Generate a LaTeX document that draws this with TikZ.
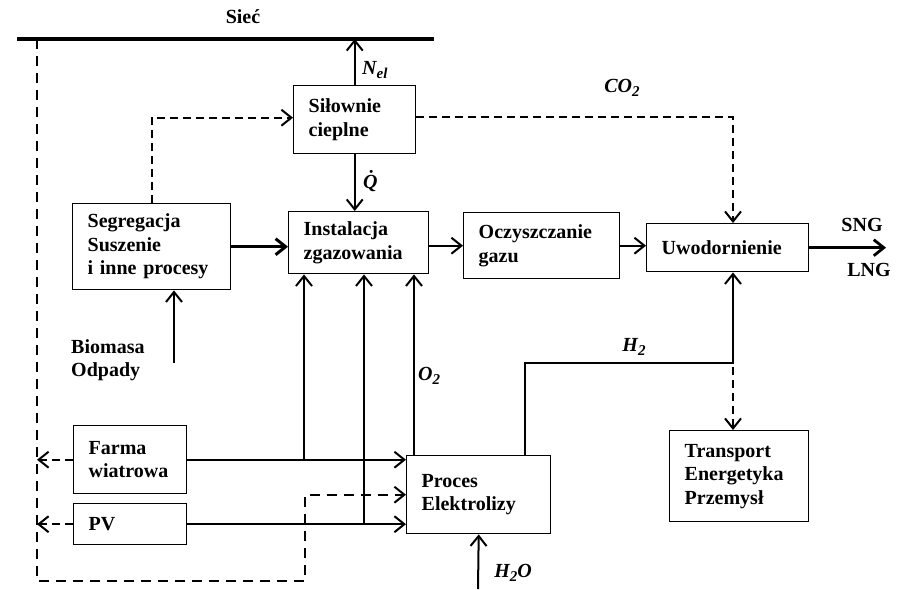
\documentclass[tikz,border=0pt]{standalone}
\usepackage{fontspec}
\setmainfont{Liberation Serif}
\usetikzlibrary{arrows.meta}
\newcommand{\mysub}[1]{\raisebox{-4pt}{\fontsize{15}{15}\selectfont #1}}
\newcommand{\mylab}[2]{{\itshape #1\mysub{#2}}}
\begin{document}
\begin{tikzpicture}[x=1pt,y=-1pt,
  font=\fontsize{20}{23.5}\selectfont\bfseries,
  >={Straight Barb[length=10pt,width=16pt]},
  box/.style={draw, line width=1.4pt, anchor=north west, align=left, inner xsep=15pt, inner ysep=0pt},
  conn/.style={line width=2pt},
  thickc/.style={line width=3pt},
  dsh/.style={line width=2pt, dash pattern=on 8pt off 5pt},
  dshl/.style={line width=2pt, dash pattern=on 10pt off 7pt},
  lbl/.style={inner sep=0pt}]
\useasboundingbox (0,0) rectangle (902,589);

% boxes
\node[box, text width=92pt,  minimum height=68pt] (sil)   at (293,85)  {Siłownie\\cieplne};
\node[box, text width=128pt, minimum height=86pt] (seg)   at (72,203)  {Segregacja\\Suszenie\\i inne procesy};
\node[box, text width=110pt, minimum height=62pt] (inst)  at (288,211) {Instalacja\\zgazowania};
\node[box, text width=126pt, minimum height=66pt] (ocz)   at (463,212) {Oczyszczanie\\gazu};
\node[box, text width=132pt, minimum height=48pt] (uwod)  at (646,223) {Uwodornienie};
\node[box, text width=83pt,  minimum height=68pt] (farma) at (73,425)  {Farma\\wiatrowa};
\node[box, text width=83pt,  minimum height=41pt] (pv)    at (73,503)  {PV};
\node[box, text width=114pt, minimum height=78pt] (proc)  at (406,455) {Proces\\Elektrolizy};
\node[box, text width=109pt, minimum height=91pt] (trans) at (669,430) {Transport\\Energetyka\\Przemysł};

% helper coordinates
\coordinate (gL) at (17,39);
\coordinate (gR) at (434,39);
\coordinate (xd) at (37,0);
\coordinate (d1) at (37,581);
\coordinate (d2) at (305,581);
\coordinate (x304) at (304,0);
\coordinate (x364) at (364,0);
\coordinate (x414) at (414,0);
\coordinate (x525) at (525,0);
\coordinate (hx) at (733,363);
\coordinate (hxd) at (733,367);
\coordinate (bio) at (174,363);
\coordinate (h2oS) at (478,589);
\coordinate (sngE) at (886,247);
\coordinate (silW) at ([yshift=2pt]sil.west);
\coordinate (silE) at ([yshift=3pt]sil.east);

% grid line
\draw[line width=3.2pt] (gL) -- (gR);

% solid connectors
\draw[conn,->] (sil.north) -- (sil.north |- gL);
\draw[conn,->] (sil.south) -- (sil.south |- inst.north);
\draw[thickc,->] (seg.east) -- (seg.east -| inst.west);
\draw[conn,->] (inst.east |- ocz.west) -- (ocz.west);
\draw[conn,->] (ocz.east) -- (ocz.east -| uwod.west);
\draw[line width=2.8pt,->] (uwod.east) -- (uwod.east -| sngE);
\draw[conn,->] (bio) -- (bio |- seg.south);
\draw[conn,->] (farma.east) -- (farma.east -| proc.west);
\draw[conn,->] (pv.east) -- (pv.east -| proc.west);
\draw[conn,->] (farma.east -| x304) -- (x304 |- inst.south);
\draw[conn,->] (pv.east -| x364) -- (x364 |- inst.south);
\draw[conn,->] (proc.north -| x414) -- (x414 |- inst.south);
\draw[conn,->] (proc.north -| x525) -- (x525 |- hx) -- (hx) -- (hx |- uwod.south);
\draw[conn,->] (h2oS) -- (proc.south);

% dashed connectors
\draw[dsh,->] (seg.north) -- (seg.north |- silW) -- (silW);
\draw[dsh,->] (silE) -- (silE -| hx) -- (hx |- uwod.north);
\draw[dsh,->] (hxd) -- (hx |- trans.north);
\draw[dshl,->] (gL -| xd) -- (d1) -- (d2) -- (d2 |- proc.west) -- (proc.west);
\draw[dsh,->] (farma.west) -- (farma.west -| xd);
\draw[dsh,->] (pv.west) -- (pv.west -| xd);

% labels
\node[lbl] (siec) at (243,17) {Sieć};
\node[lbl, anchor=west] (nel) at (362,70) {\mylab{N}{el}};
\node[lbl, anchor=west] (qd) at (363,181) {\itshape \.{Q}};
\node[lbl] (co2) at (622,88) {\mylab{CO}{2}};
\node[lbl, anchor=west] (o2) at (418,376) {\mylab{O}{2}};
\node[lbl] (h2) at (634,347) {\mylab{H}{2}};
\node[lbl] (h2o) at (513,573) {\mylab{H}{2}{\itshape O}};
\node[lbl] (sng) at (862,225) {SNG};
\node[lbl] (lng) at (869,270) {LNG};
\node[lbl, anchor=west, align=left] (biom) at (71,360) {Biomasa\\Odpady};
\end{tikzpicture}
\end{document}
